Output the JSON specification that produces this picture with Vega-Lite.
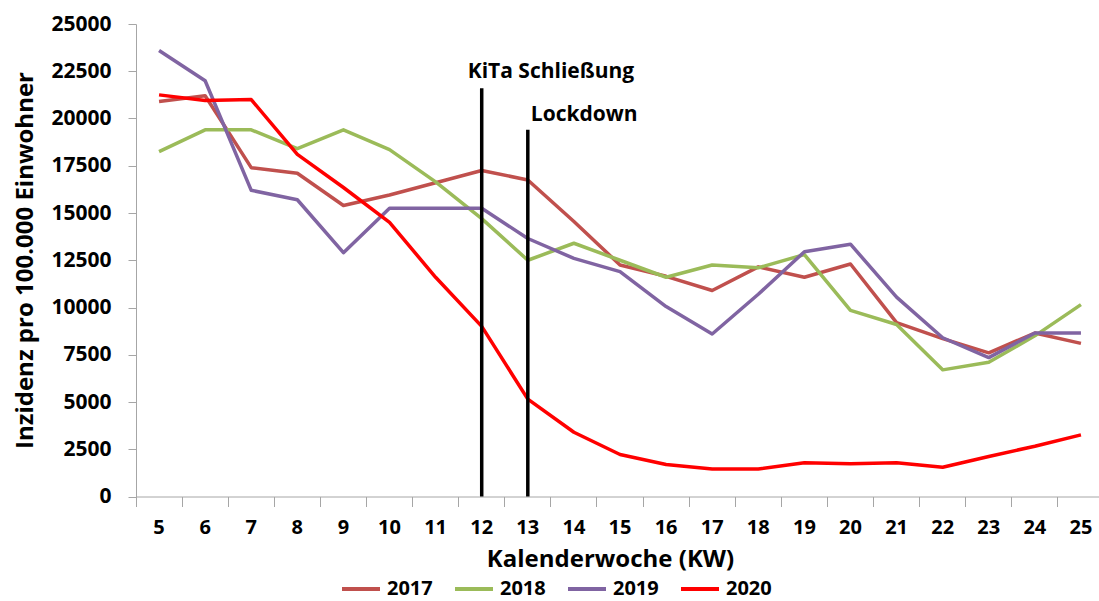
{
  "$schema": "https://vega.github.io/schema/vega-lite/v6.json",
  "width": 963,
  "height": 472.5,
  "autosize": {"type": "none"},
  "padding": {"left": 136, "top": 24, "right": 0, "bottom": 104.5},
  "config": {"view": {"stroke": null}, "font": "Open Sans"},
  "datasets": {
    "series": [
      {"kw": 5, "year": "2017", "value": 20900}, {"kw": 6, "year": "2017", "value": 21200}, {"kw": 7, "year": "2017", "value": 17400}, {"kw": 8, "year": "2017", "value": 17100}, {"kw": 9, "year": "2017", "value": 15400}, {"kw": 10, "year": "2017", "value": 15950}, {"kw": 11, "year": "2017", "value": 16600}, {"kw": 12, "year": "2017", "value": 17250}, {"kw": 13, "year": "2017", "value": 16750}, {"kw": 14, "year": "2017", "value": 14550}, {"kw": 15, "year": "2017", "value": 12250}, {"kw": 16, "year": "2017", "value": 11650}, {"kw": 17, "year": "2017", "value": 10900}, {"kw": 18, "year": "2017", "value": 12150}, {"kw": 19, "year": "2017", "value": 11600}, {"kw": 20, "year": "2017", "value": 12300}, {"kw": 21, "year": "2017", "value": 9200}, {"kw": 22, "year": "2017", "value": 8350}, {"kw": 23, "year": "2017", "value": 7600}, {"kw": 24, "year": "2017", "value": 8650}, {"kw": 25, "year": "2017", "value": 8100},
      {"kw": 5, "year": "2018", "value": 18250}, {"kw": 6, "year": "2018", "value": 19400}, {"kw": 7, "year": "2018", "value": 19400}, {"kw": 8, "year": "2018", "value": 18400}, {"kw": 9, "year": "2018", "value": 19400}, {"kw": 10, "year": "2018", "value": 18350}, {"kw": 11, "year": "2018", "value": 16650}, {"kw": 12, "year": "2018", "value": 14700}, {"kw": 13, "year": "2018", "value": 12500}, {"kw": 14, "year": "2018", "value": 13400}, {"kw": 15, "year": "2018", "value": 12500}, {"kw": 16, "year": "2018", "value": 11600}, {"kw": 17, "year": "2018", "value": 12250}, {"kw": 18, "year": "2018", "value": 12100}, {"kw": 19, "year": "2018", "value": 12800}, {"kw": 20, "year": "2018", "value": 9850}, {"kw": 21, "year": "2018", "value": 9100}, {"kw": 22, "year": "2018", "value": 6700}, {"kw": 23, "year": "2018", "value": 7100}, {"kw": 24, "year": "2018", "value": 8500}, {"kw": 25, "year": "2018", "value": 10150},
      {"kw": 5, "year": "2019", "value": 23600}, {"kw": 6, "year": "2019", "value": 22000}, {"kw": 7, "year": "2019", "value": 16200}, {"kw": 8, "year": "2019", "value": 15700}, {"kw": 9, "year": "2019", "value": 12900}, {"kw": 10, "year": "2019", "value": 15250}, {"kw": 11, "year": "2019", "value": 15250}, {"kw": 12, "year": "2019", "value": 15250}, {"kw": 13, "year": "2019", "value": 13650}, {"kw": 14, "year": "2019", "value": 12600}, {"kw": 15, "year": "2019", "value": 11900}, {"kw": 16, "year": "2019", "value": 10050}, {"kw": 17, "year": "2019", "value": 8600}, {"kw": 18, "year": "2019", "value": 10700}, {"kw": 19, "year": "2019", "value": 12950}, {"kw": 20, "year": "2019", "value": 13350}, {"kw": 21, "year": "2019", "value": 10550}, {"kw": 22, "year": "2019", "value": 8400}, {"kw": 23, "year": "2019", "value": 7350}, {"kw": 24, "year": "2019", "value": 8650}, {"kw": 25, "year": "2019", "value": 8650},
      {"kw": 5, "year": "2020", "value": 21250}, {"kw": 6, "year": "2020", "value": 20950}, {"kw": 7, "year": "2020", "value": 21000}, {"kw": 8, "year": "2020", "value": 18100}, {"kw": 9, "year": "2020", "value": 16350}, {"kw": 10, "year": "2020", "value": 14500}, {"kw": 11, "year": "2020", "value": 11600}, {"kw": 12, "year": "2020", "value": 9000}, {"kw": 13, "year": "2020", "value": 5150}, {"kw": 14, "year": "2020", "value": 3400}, {"kw": 15, "year": "2020", "value": 2220}, {"kw": 16, "year": "2020", "value": 1690}, {"kw": 17, "year": "2020", "value": 1450}, {"kw": 18, "year": "2020", "value": 1450}, {"kw": 19, "year": "2020", "value": 1780}, {"kw": 20, "year": "2020", "value": 1730}, {"kw": 21, "year": "2020", "value": 1780}, {"kw": 22, "year": "2020", "value": 1550}, {"kw": 23, "year": "2020", "value": 2120}, {"kw": 24, "year": "2020", "value": 2660}, {"kw": 25, "year": "2020", "value": 3260}
    ],
    "events": [
      {"kw": 12, "top": 21600},
      {"kw": 13, "top": 19400}
    ],
    "kita": [{"kw": 12, "pos": 22150, "label": "KiTa Schließung"}],
    "lock": [{"kw": 13, "pos": 19870, "label": "Lockdown"}]
  },
  "layer": [
    {
      "data": {"name": "series"},
      "mark": {"type": "line", "strokeWidth": 3.5, "strokeJoin": "round"},
      "encoding": {
        "x": {
          "field": "kw", "type": "ordinal",
          "scale": {"type": "band", "range": [0, 968], "paddingInner": 0, "paddingOuter": 0},
          "axis": {
            "title": "Kalenderwoche (KW)", "bandPosition": 0, "labelAngle": 0,
            "tickSize": 10, "tickColor": "#A6A6A6", "domainColor": "#A6A6A6", "grid": false,
            "labelFont": "Open Sans", "labelFontWeight": "bold", "labelFontSize": 20, "labelColor": "black",
            "labelPadding": 11, "labelBaseline": "top",
            "titleFont": "Open Sans", "titleFontSize": 24, "titleFontWeight": "bold", "titleColor": "black",
            "titleX": 474, "titleY": 63, "titleBaseline": "middle", "titleAlign": "center"
          }
        },
        "y": {
          "field": "value", "type": "quantitative",
          "scale": {"domain": [0, 25000], "nice": false},
          "axis": {
            "title": "Inzidenz pro 100.000 Einwohner",
            "values": [0, 2500, 5000, 7500, 10000, 12500, 15000, 17500, 20000, 22500, 25000],
            "format": "d", "grid": false, "tickSize": 8, "tickColor": "#A6A6A6", "domainColor": "#A6A6A6",
            "labelFont": "Open Sans", "labelFontWeight": "bold", "labelFontSize": 21, "labelColor": "black", "labelPadding": 17,
            "titleFont": "Open Sans", "titleFontSize": 24, "titleFontWeight": "bold", "titleColor": "black",
            "titleX": -111, "titleY": 236, "titleAngle": 270, "titleAlign": "center", "titleBaseline": "middle"
          }
        },
        "color": {
          "field": "year", "type": "nominal",
          "scale": {"domain": ["2017", "2018", "2019", "2020"], "range": ["#C0504D", "#9BBB59", "#8064A2", "#FF0000"]},
          "legend": {
            "orient": "none", "legendX": 204, "legendY": 544, "direction": "horizontal", "title": null,
            "symbolType": "stroke", "symbolSize": 1444, "symbolStrokeWidth": 4,
            "labelFont": "Open Sans", "labelFontSize": 20, "labelFontWeight": "bold", "labelColor": "black",
            "labelOffset": 5, "columnPadding": 14, "padding": 0
          }
        }
      }
    },
    {
      "data": {"name": "events"},
      "mark": {"type": "rule", "strokeWidth": 3.5, "color": "black"},
      "encoding": {
        "x": {"field": "kw", "type": "ordinal"},
        "y": {"field": "top", "type": "quantitative"},
        "y2": {"datum": 0}
      }
    },
    {
      "data": {"name": "kita"},
      "mark": {"type": "text", "align": "left", "baseline": "alphabetic", "dx": -14, "font": "Open Sans", "fontSize": 21, "fontWeight": "bold", "color": "black"},
      "encoding": {
        "x": {"field": "kw", "type": "ordinal"},
        "y": {"field": "pos", "type": "quantitative"},
        "text": {"field": "label"}
      }
    },
    {
      "data": {"name": "lock"},
      "mark": {"type": "text", "align": "left", "baseline": "alphabetic", "dx": 3, "font": "Open Sans", "fontSize": 21, "fontWeight": "bold", "color": "black"},
      "encoding": {
        "x": {"field": "kw", "type": "ordinal"},
        "y": {"field": "pos", "type": "quantitative"},
        "text": {"field": "label"}
      }
    }
  ]
}
